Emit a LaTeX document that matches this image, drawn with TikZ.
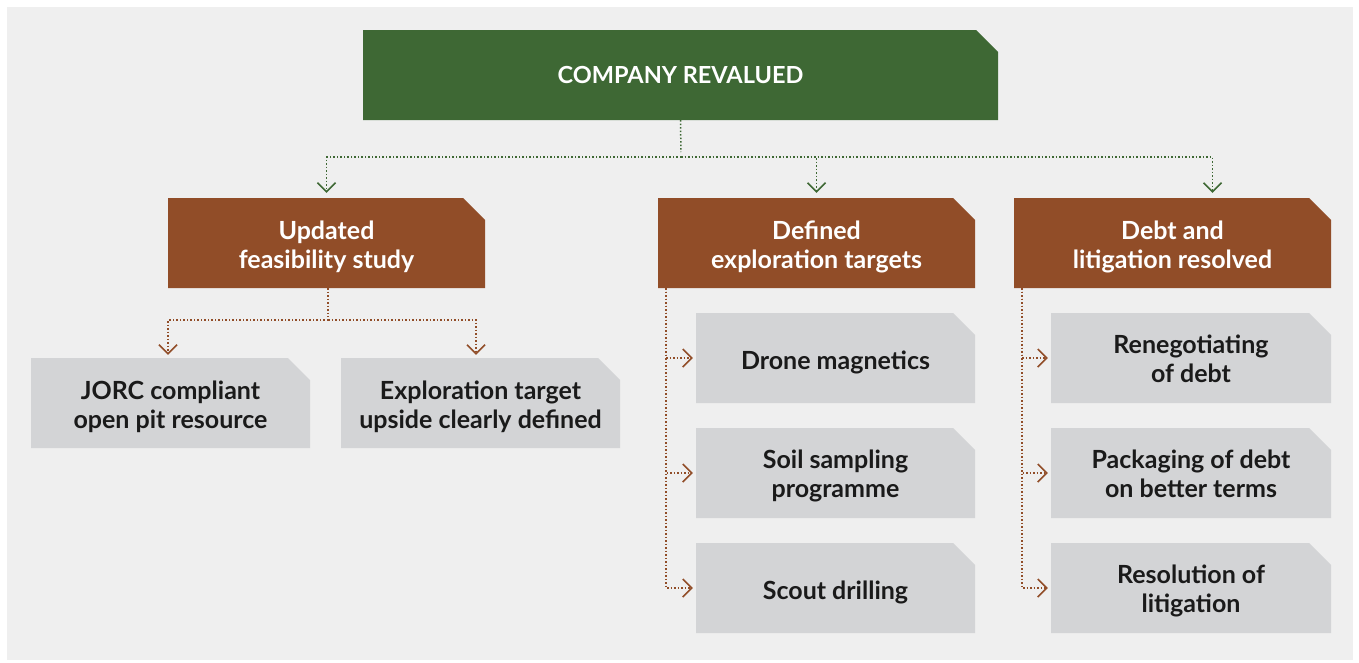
\documentclass[tikz,border=0pt]{standalone}
\usepackage{fontspec}
\setmainfont{Lato}
\usepackage{tikz}
\usetikzlibrary{arrows.meta}

\definecolor{panelgray}{HTML}{EFEFEF}
\definecolor{leafgray}{HTML}{D3D4D6}
\definecolor{topgreen}{HTML}{3E6834}
\definecolor{midbrown}{HTML}{914D28}
\definecolor{inktext}{HTML}{1A1A1A}

\newcommand{\liftline}[1][27pt]{\rule{0pt}{#1}}

\tikzset{
  cutbox/.style={minimum width=#1, inner sep=0pt, align=center,
    font=\fontsize{25}{29}\selectfont\bfseries},
  cutfill/.style={path picture={
    \fill[#1] (path picture bounding box.south west)
      -- (path picture bounding box.north west)
      -- ([xshift=-22pt]path picture bounding box.north east)
      -- ([yshift=-22pt]path picture bounding box.north east)
      -- (path picture bounding box.south east) -- cycle;}},
  topbox/.style={minimum width=635pt, inner sep=0pt, minimum height=90pt,
    cutfill=topgreen, text=white,
    font=\fontsize{23.5}{29}\selectfont\bfseries},
  midbox/.style={cutbox=317pt, minimum height=90pt,
    cutfill=midbrown, text=white},
  leafbox/.style={cutbox=#1, minimum height=90pt, cutfill=leafgray,
    text=inktext},
  greenlink/.style={topgreen, line width=1.5pt,
    dash pattern=on 1.5pt off 2pt,
    -{Straight Barb[length=9pt,width=18pt,line width=1.5pt]},
    shorten >=5pt},
  brownlink/.style={midbrown, line width=1.5pt,
    dash pattern=on 1.5pt off 2pt,
    -{Straight Barb[length=9pt,width=18pt,line width=1.5pt]},
    shorten >=3pt},
}

\begin{document}
\begin{tikzpicture}[x=1pt, y=-1pt]

\useasboundingbox (0,0) rectangle (1359,662);
\fill[white] (0,0) rectangle (1359,662);
\fill[panelgray] (7,7) rectangle (1353,660);

\node[topbox] (revalued) at (680.5,75) {COMPANY REVALUED};

\node[midbox] (feasibility) at (326.5,243) {\liftline Updated\\feasibility study};
\node[midbox] (targets) at (816.5,243) {\liftline Defined\\exploration targets};
\node[midbox] (debt) at (1172.5,243) {\liftline Debt and\\litigation resolved};

\node[leafbox=279pt] (jorc) at (170.5,403) {\liftline JORC compliant\\open pit resource};
\node[leafbox=279pt] (upside) at (480.5,403) {\liftline Exploration target\\upside clearly defined};

\node[leafbox=279pt] (drone) at (835.5,358) {\liftline Drone magnetics};
\node[leafbox=279pt] (soil) at (835.5,473) {\liftline[25pt]Soil sampling\\programme};
\node[leafbox=279pt] (scout) at (835.5,588) {\liftline Scout drilling};

\node[leafbox=280pt] (reneg) at (1191,358) {\liftline[21pt]Renegotiating\\of debt};
\node[leafbox=280pt] (packaging) at (1191,473) {\liftline[21pt]Packaging of debt\\on better terms};
\node[leafbox=280pt] (litigation) at (1191,588) {\liftline[25pt]Resolution of\\litigation};

\coordinate (tophub) at (681,157);
\draw[greenlink, -] (revalued.south) -- (tophub);
\draw[greenlink] (tophub) -| (feasibility.north);
\draw[greenlink] (tophub) -| (targets.north);
\draw[greenlink] (tophub) -| ([xshift=40pt]debt.north);

\coordinate (feashub) at (328,320);
\draw[brownlink, -] ([xshift=1.5pt]feasibility.south) -- (feashub);
\draw[brownlink] (feashub) -| ([xshift=-2.5pt]jorc.north);
\draw[brownlink] (feashub) -| ([xshift=-4.5pt]upside.north);

\draw[brownlink] ([xshift=8pt]targets.south west) |- (drone.west);
\draw[brownlink] ([xshift=8pt]targets.south west) |- (soil.west);
\draw[brownlink] ([xshift=8pt]targets.south west) |- (scout.west);

\draw[brownlink] ([xshift=8pt]debt.south west) |- (reneg.west);
\draw[brownlink] ([xshift=8pt]debt.south west) |- (packaging.west);
\draw[brownlink] ([xshift=8pt]debt.south west) |- (litigation.west);

\end{tikzpicture}
\end{document}
